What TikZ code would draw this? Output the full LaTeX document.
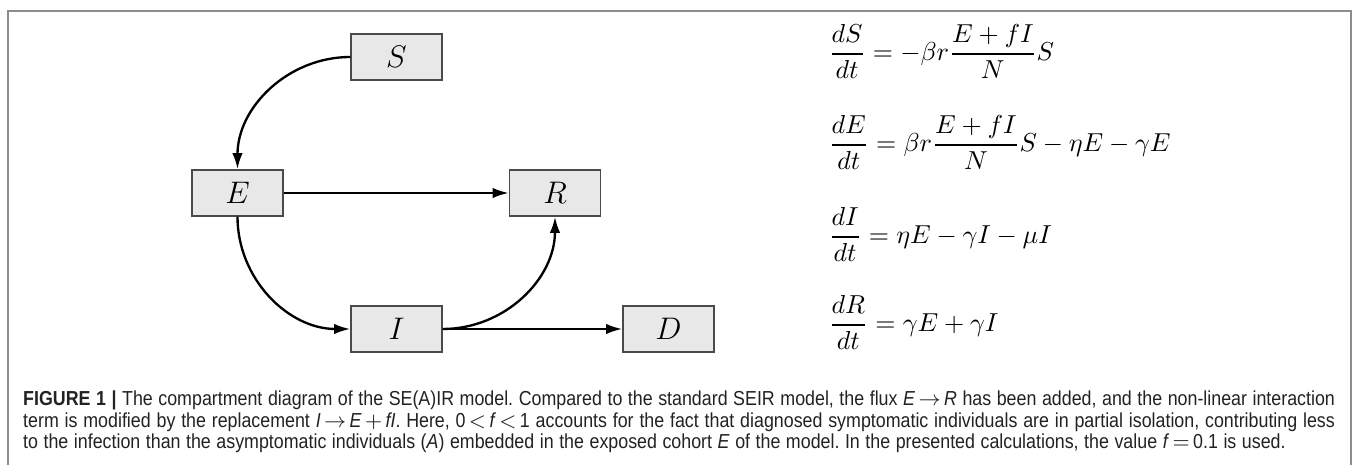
\documentclass[tikz,border=0pt]{standalone}
\usepackage{fontspec}
\usepackage{amsmath}
\newfontfamily\capfont[FakeStretch=0.88]{Liberation Sans}
\usetikzlibrary{arrows.meta}
\definecolor{boxfill}{HTML}{E8E8E8}
\definecolor{boxline}{HTML}{4A4A4A}
\definecolor{framegray}{HTML}{8C8C8C}
\definecolor{captext}{HTML}{222222}
\frenchspacing
\tikzset{
  comp/.style={draw=boxline, fill=boxfill, line width=0.58pt, minimum width=35pt, minimum height=17.7pt, inner sep=0pt, font=\fontsize{11.5}{14}\selectfont},
  flow/.style={line width=0.9pt, -{Latex[length=6.2pt,width=4pt]}},
  eqn/.style={anchor=base west, inner sep=0pt, font=\fontsize{10}{12}\selectfont},
  capline/.style={anchor=base west, inner sep=0pt, text=captext, font=\capfont\fontsize{7.8}{10}\selectfont}
}
\begin{document}
\begin{tikzpicture}[x=0.385pt, y=-0.385pt]
\useasboundingbox (0,0) rectangle (1357,465);
\draw[framegray, line width=0.58pt] (8,475) -- (8,11) -- (1351,11) -- (1351,475);
% compartments
\node[comp] (S) at (396.5,57) {$S$};
\node[comp] (E) at (237.5,193) {$E$};
\node[comp] (R) at (555,193) {$R$};
\node[comp] (I) at (396.5,329) {$I$};
\node[comp] (D) at (668.5,329) {$D$};
% flows
\draw[flow] (S.west) to[out=180, in=90] (E.north);
\draw[flow] (E.east) -- (R.west);
\draw[flow] (E.south) to[out=-90, in=180] (I.west);
\draw[flow] (I.east) to[out=0, in=-90] (R.south);
\draw[flow] (I.east) -- (D.west);
% equations
\node[eqn] (eq1) at (828,60.5) {$\displaystyle \frac{dS}{dt} = -\beta r\frac{E+fI}{N}S$};
\node[eqn] (eq2) at (828,151.5) {$\displaystyle \frac{dE}{dt} = \beta r\frac{E+fI}{N}S-\eta E-\gamma E$};
\node[eqn] (eq3) at (828,243.5) {$\displaystyle \frac{dI}{dt} = \eta E-\gamma I-\mu I$};
\node[eqn] (eq4) at (828,331.5) {$\displaystyle \frac{dR}{dt} = \gamma E+\gamma I$};
% caption
\node[capline] (cap1) at (22.7,406) {\makebox[505pt][s]{\textbf{FIGURE 1 |} The compartment diagram of the SE(A)IR model. Compared to the standard SEIR model, the flux \textit{E}\,$\rightarrow$\,\textit{R} has been added, and the non-linear interaction}};
\node[capline] (cap2) at (22.7,427.5) {\makebox[505pt][s]{term is modified by the replacement \textit{I}\,$\rightarrow$\,\textit{E}\,$+$\,\textit{fI}. Here, 0\,$<$\,\textit{f}\,$<$\,1 accounts for the fact that diagnosed symptomatic individuals are in partial isolation, contributing less}};
\node[capline] (cap3) at (22.7,449) {\makebox[486pt][s]{to the infection than the asymptomatic individuals (\textit{A}) embedded in the exposed cohort \textit{E} of the model. In the presented calculations, the value \textit{f}\,$=$\,0.1 is used.}};
\end{tikzpicture}
\end{document}
